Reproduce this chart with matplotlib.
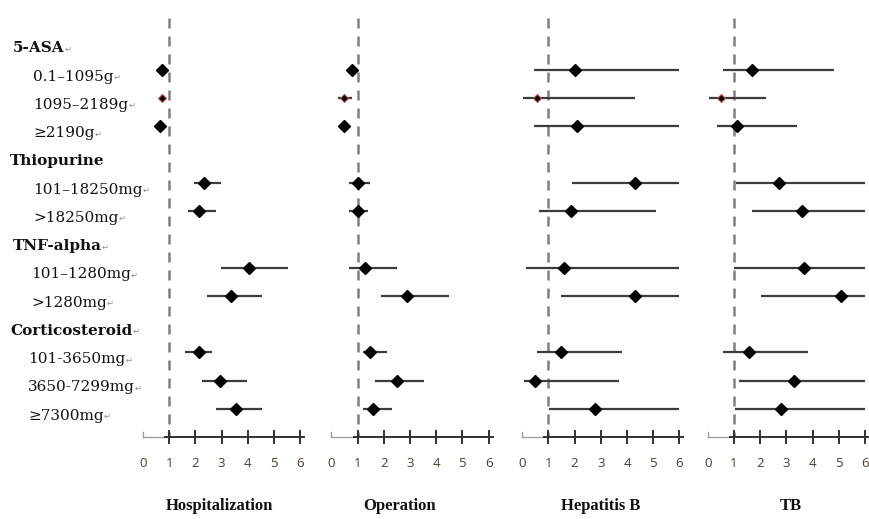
import numpy as np
import matplotlib.pyplot as plt
from matplotlib.transforms import blended_transform_factory

# row labels
headers = ['5-ASA', 'Thiopurine', 'TNF-alpha', 'Corticosteroid']
header_rows = [0, 4, 7, 10]
dose_labels = ['0.1–1095g', '1095–2189g', '≥2190g',
               '101–18250mg', '>18250mg',
               '101–1280mg', '>1280mg',
               '101-3650mg', '3650-7299mg', '≥7300mg']
dose_rows = [1, 2, 3, 5, 6, 8, 9, 11, 12, 13]

panels = ['Hospitalization', 'Operation', 'Hepatitis B', 'TB']

# odds ratio, lower CI, upper CI (upper clipped at 6 as in the figure)
hosp_or = [0.72, 0.72, 0.65, 2.34, 2.14, 4.05, 3.36, 2.14, 2.93, 3.55]
hosp_lo = [0.66, 0.66, 0.60, 1.96, 1.70, 2.96, 2.45, 1.60, 2.26, 2.77]
hosp_hi = [0.80, 0.78, 0.72, 2.97, 2.77, 5.55, 4.55, 2.65, 3.96, 4.55]

oper_or = [0.79, 0.49, 0.49, 1.00, 1.00, 1.30, 2.89, 1.49, 2.50, 1.59]
oper_lo = [0.68, 0.26, 0.44, 0.68, 0.68, 0.68, 1.91, 1.21, 1.66, 1.21]
oper_hi = [0.98, 0.79, 0.55, 1.49, 1.40, 2.52, 4.48, 2.13, 3.52, 2.32]

hepb_or = [2.00, 0.58, 2.09, 4.30, 1.87, 1.58, 4.30, 1.48, 0.48, 2.79]
hepb_lo = [0.46, 0.04, 0.46, 1.90, 0.66, 0.15, 1.48, 0.55, 0.07, 1.02]
hepb_hi = [6.00, 4.31, 6.00, 6.00, 5.10, 6.00, 6.00, 3.82, 3.71, 6.00]

tb_or = [1.70, 0.49, 1.11, 2.71, 3.61, 3.67, 5.09, 1.58, 3.29, 2.79]
tb_lo = [0.57, 0.06, 0.36, 1.09, 1.68, 1.00, 2.02, 0.57, 1.19, 1.04]
tb_hi = [4.80, 2.22, 3.42, 6.00, 6.00, 6.00, 6.00, 3.82, 6.00, 6.00]

panel_data = [(hosp_or, hosp_lo, hosp_hi), (oper_or, oper_lo, oper_hi),
              (hepb_or, hepb_lo, hepb_hi), (tb_or, tb_lo, tb_hi)]

W, H = 869, 519
fig = plt.figure(figsize=(W / 100, H / 100), dpi=100)

label_font = ['DejaVu Serif']
title_font = ['Liberation Serif', 'DejaVu Serif']
arrow_font = ['DejaVu Sans']

# pixel geometry of each panel: x=0 location and pixels per unit
origins = [143, 331.4, 522.2, 707.8]
unit = 26.2
# rows: y_px = y0 + step * row
y0, step = 41.75, 28.25
ylim = ((H - y0) / step, -y0 / step)
title_x = [2.9, 2.6, 2.98, 3.17]

axes = []
for k, (name, (orv, lo, hi)) in enumerate(zip(panels, panel_data)):
    left = origins[k] - 0.6 * unit
    ax = fig.add_axes([left / W, 0, 7.0 * unit / W, 1])
    ax.set_xlim(-0.6, 6.4)
    ax.set_ylim(*ylim)
    ax.axis('off')

    # reference line at OR = 1
    ax.plot([1, 1], [-0.84, 14], color='#808080', lw=1.8, ls=(0, (4, 3.2)), zorder=1)

    # confidence intervals and estimates
    ax.hlines(dose_rows, lo, hi, color='#3c3c3c', lw=1.6, zorder=2)
    for i, r in enumerate(dose_rows):
        if i == 1:
            ax.plot(orv[i], r, 'D', ms=4.5, mfc='black', mec='#c0504d', mew=0.8, zorder=3)
        else:
            ax.plot(orv[i], r, 'D', ms=6.5, color='black', zorder=3)

    # x axis
    ax.plot([0, 0.85], [14, 14], color='#a0a0a0', lw=1.0)
    ax.plot([0, 0], [14, 13.82], color='#a0a0a0', lw=1.0)
    ax.plot([0.85, 6.15], [14, 14], color='#303030', lw=1.4)
    for t in range(1, 7):
        ax.plot([t, t], [13.78, 14.22], color='#303030', lw=1.4)
    for t in range(0, 7):
        ax.text(t, 14.92, str(t), ha='center', va='center', fontsize=9.5,
                family='Open Sans', color='#4a4030')

    ax.text(title_x[k], 16.42, name, ha='center', va='center', fontsize=12,
            family=title_font, fontweight='bold', color='#111111')
    axes.append(ax)

# left labels
trans = blended_transform_factory(fig.transFigure, axes[0].transData)
header_x = [13, 10, 13, 10]
dose_x = [33, 33, 33, 33, 33, 31, 31, 28, 28, 28]


def add_label(x_px, row, s, bold):
    t = fig.text(x_px / W, row + 0.18, s, transform=trans, ha='left',
                 va='center_baseline', fontsize=11, family=label_font,
                 fontweight='bold' if bold else 'normal', color='#111111')
    if s != 'Thiopurine':
        axes[0].annotate('↵', xy=(1, 0.12), xycoords=t, fontsize=6,
                         family=arrow_font, color='#909090', ha='left', va='bottom',
                         annotation_clip=False)
    return t


for s, r, x in zip(headers, header_rows, header_x):
    add_label(x, r, s, True)
for s, r, x in zip(dose_labels, dose_rows, dose_x):
    add_label(x, r, s, False)

fig.savefig('out.png', dpi=100)
